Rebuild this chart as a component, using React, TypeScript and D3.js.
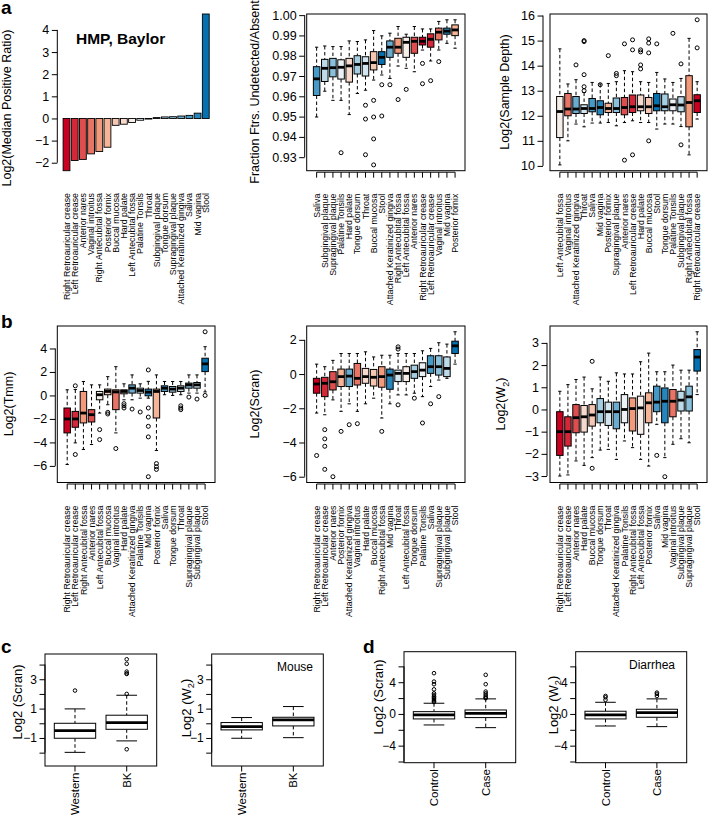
import React, { useEffect, useRef } from 'react'
import * as d3 from 'd3'

const FONT = '"Liberation Sans", Arial, Helvetica, sans-serif'

// site order of the ratio bar chart; this order also fixes each site's colour
const sites = ['Right Retroauricular crease', 'Left Retroauricular crease', 'Anterior nares', 'Vaginal introitus',
  'Right Antecubital fossa', 'Posterior fornix', 'Buccal mucosa', 'Hard palate', 'Left Antecubital fossa',
  'Palatine Tonsils', 'Throat', 'Subgingival plaque', 'Tongue dorsum', 'Supragingival plaque',
  'Attached Keratinized gingiva', 'Saliva', 'Mid vagina', 'Stool']
const medianRatio = [-2.36, -1.9, -1.85, -1.6, -1.49, -1.3, -0.31, -0.26, -0.18, -0.08, -0.01,
  0.04, 0.07, 0.08, 0.11, 0.14, 0.24, 4.72]

// box stats are [lower whisker, Q1, median, Q3, upper whisker]
const fracSites = ['Saliva', 'Subgingival plaque', 'Supragingival plaque', 'Palatine Tonsils', 'Hard palate',
  'Tongue dorsum', 'Throat', 'Buccal mucosa', 'Stool', 'Attached Keratinized gingiva', 'Right Antecubital fossa',
  'Left Antecubital fossa', 'Anterior nares', 'Right Retroauricular crease', 'Left Retroauricular crease',
  'Vaginal introitus', 'Mid vagina', 'Posterior fornix']
const fracStats = [
  [0.9498, 0.9604, 0.9686, 0.9746, 0.9842], [0.9625, 0.9673, 0.9738, 0.9782, 0.9848],
  [0.958, 0.9696, 0.9741, 0.9787, 0.9845], [0.958, 0.9685, 0.9743, 0.978, 0.9845],
  [0.951, 0.967, 0.975, 0.9787, 0.9873], [0.9614, 0.971, 0.9757, 0.98, 0.987],
  [0.963, 0.97, 0.9762, 0.9795, 0.9878], [0.968, 0.973, 0.9766, 0.982, 0.9924],
  [0.9705, 0.9757, 0.9792, 0.982, 0.9898], [0.9688, 0.9792, 0.9842, 0.9873, 0.9911],
  [0.9749, 0.9812, 0.9842, 0.9886, 0.9944], [0.9738, 0.9792, 0.9866, 0.9891, 0.9906],
  [0.9721, 0.9812, 0.9871, 0.9891, 0.9944], [0.9828, 0.9853, 0.9871, 0.9891, 0.9932],
  [0.9774, 0.9842, 0.9881, 0.9908, 0.9932], [0.9828, 0.9878, 0.9916, 0.9936, 0.9969],
  [0.9861, 0.9906, 0.9921, 0.9936, 0.9977], [0.9837, 0.9899, 0.9927, 0.9952, 0.9977],
]
const fracOut = [[], [], [], [0.9322], [], [], [0.9556, 0.9488, 0.9312], [0.958, 0.9498, 0.939, 0.9262],
  [0.9657, 0.9503], [0.9657], [0.9584], [0.9634], [], [0.9762, 0.9662], [0.9677], [0.9771], [], []]

const depthSites = ['Left Antecubital fossa', 'Vaginal introitus', 'Attached Keratinized gingiva', 'Throat', 'Saliva',
  'Mid vagina', 'Posterior fornix', 'Supragingival plaque', 'Anterior nares', 'Left Retroauricular crease',
  'Hard palate', 'Buccal mucosa', 'Stool', 'Tongue dorsum', 'Palatine Tonsils', 'Subgingival plaque',
  'Right Antecubital fossa', 'Right Retroauricular crease']
const depthStats = [
  [10.04, 11.13, 12.17, 12.77, 14.67], [11.0, 12.0, 12.27, 12.89, 13.27], [11.67, 12.09, 12.27, 12.77, 13.44],
  [11.56, 12.09, 12.29, 12.44, 12.93], [11.71, 12.16, 12.29, 12.69, 13.33], [11.71, 12.04, 12.33, 12.6, 13.27],
  [11.73, 12.13, 12.29, 12.5, 13.29], [11.6, 12.13, 12.29, 12.71, 13.36], [11.73, 12.04, 12.33, 12.73, 13.8],
  [11.8, 12.13, 12.36, 12.83, 13.76], [11.73, 12.2, 12.36, 12.83, 13.36], [11.73, 12.09, 12.36, 12.73, 13.33],
  [11.47, 12.2, 12.4, 12.89, 13.73], [11.67, 12.2, 12.36, 12.87, 13.47], [11.67, 12.2, 12.44, 12.67, 13.33],
  [11.57, 12.16, 12.43, 12.76, 13.49], [10.44, 11.56, 12.53, 13.6, 15.09], [11.87, 12.13, 12.6, 12.84, 13.36],
]
const depthOut = [[], [], [14.03], [15.0, 14.96, 13.64, 13.16, 13.0], [], [13.24], [14.4], [13.69, 13.6],
  [14.87, 10.23], [15.03, 14.63, 10.44], [14.63, 14.55, 14.03, 13.87], [15.07, 14.9, 14.51, 11.0], [14.87], [],
  [15.29], [14.07, 10.84], [], [15.83, 14.71]]

const tmmSites = ['Right Retroauricular crease', 'Left Retroauricular crease', 'Right Antecubital fossa',
  'Anterior nares', 'Left Antecubital fossa', 'Buccal mucosa', 'Vaginal introitus', 'Hard palate',
  'Attached Keratinized gingiva', 'Palatine Tonsils', 'Mid vagina', 'Posterior fornix', 'Saliva', 'Tongue dorsum',
  'Throat', 'Supragingival plaque', 'Subgingival plaque', 'Stool']
const tmmStats = [
  [-5.88, -3.19, -2.0, -1.07, 0.48], [-4.04, -2.71, -2.0, -1.36, 0.5], [-4.6, -2.34, -1.5, 0.34, 1.19],
  [-4.18, -2.26, -1.64, -1.21, 0.9], [-1.5, -0.37, 0.06, 0.34, 0.9], [-0.79, 0.06, 0.34, 0.54, 1.6],
  [-3.19, -1.21, 0.3, 0.48, 2.45], [-0.37, 0.14, 0.34, 0.48, 0.99], [-0.37, 0.2, 0.62, 0.9, 1.75],
  [-0.23, 0.2, 0.42, 0.62, 0.99], [-0.23, -0.03, 0.28, 0.54, 1.2], [-4.69, -1.92, 0.34, 0.54, 1.75],
  [0.06, 0.34, 0.62, 0.82, 1.19], [0.0, 0.28, 0.54, 0.76, 1.19], [0.06, 0.34, 0.62, 0.82, 1.19],
  [0.2, 0.62, 0.9, 1.05, 1.75], [0.2, 0.62, 0.9, 1.1, 1.75], [0.3, 2.03, 2.69, 3.17, 4.15],
]
const tmmOut = [[], [-5.03, 0.82], [], [], [-2.91, -3.76], [-1.44, -1.58], [-4.52], [-0.7, -0.88, -1.07], [-1.16],
  [-1.41], [-1.07, -1.84, -2.63, -3.53, -6.92, 2.17], [-5.8, -6.07, -6.3], [], [], [-0.88, -1.07, -1.21], [-0.14],
  [-0.31], [5.42, 0.0]]

const scranSites = ['Right Retroauricular crease', 'Left Retroauricular crease', 'Anterior nares', 'Posterior fornix',
  'Attached Keratinized gingiva', 'Vaginal introitus', 'Hard palate', 'Buccal mucosa', 'Right Antecubital fossa',
  'Mid vagina', 'Throat', 'Left Antecubital fossa', 'Tongue dorsum', 'Palatine Tonsils', 'Saliva',
  'Supragingival plaque', 'Subgingival plaque', 'Stool']
const scranStats = [
  [-2.28, -1.12, -0.58, -0.25, 0.58], [-2.38, -1.32, -0.54, -0.19, 0.43], [-1.51, -0.93, -0.45, 0.14, 0.8],
  [-2.18, -0.73, -0.15, 0.29, 1.2], [-1.74, -0.73, -0.12, 0.29, 1.2], [-2.18, -0.64, -0.25, 0.62, 1.2],
  [-1.74, -0.54, -0.15, 0.33, 1.3], [-1.41, -0.7, -0.19, 0.27, 1.0], [-2.57, -0.77, -0.15, 0.43, 1.1],
  [-1.74, -0.89, -0.06, 0.29, 1.1], [-1.22, -0.44, 0.04, 0.23, 1.2], [-1.22, -0.44, 0.04, 0.43, 1.2],
  [-1.12, -0.25, 0.14, 0.52, 1.2], [-1.32, -0.15, 0.23, 0.66, 1.36], [-0.73, 0.04, 0.43, 1.07, 1.5],
  [-0.35, -0.06, 0.43, 1.07, 1.83], [-0.25, -0.15, 0.33, 1.0, 1.75], [0.58, 1.2, 1.65, 1.92, 2.47],
]
const scranOut = [[-4.76], [-3.25, -3.79, -4.22, -5.57], [-6.0], [-3.35], [-2.96], [-2.9], [], [], [-3.35], [],
  [-1.8, 1.59, 1.46], [], [-1.41], [-2.86], [-1.74], [-1.32], [], []]

const w2Sites = ['Right Retroauricular crease', 'Left Retroauricular crease', 'Anterior nares', 'Hard palate',
  'Buccal mucosa', 'Tongue dorsum', 'Throat', 'Attached Keratinized gingiva', 'Palatine Tonsils',
  'Right Antecubital fossa', 'Left Antecubital fossa', 'Posterior fornix', 'Saliva', 'Mid vagina',
  'Vaginal introitus', 'Subgingival plaque', 'Supragingival plaque', 'Stool']
const w2Stats = [
  [-3.0, -2.07, -1.0, -0.1, 0.82], [-2.95, -1.65, -1.0, -0.33, 1.12], [-2.32, -1.05, -0.37, 0.22, 1.35],
  [-2.52, -1.02, -0.33, 0.18, 1.46], [-2.17, -0.75, -0.25, 0.22, 0.93], [-1.83, -0.6, -0.1, 0.49, 1.46],
  [-1.8, -0.72, -0.1, 0.33, 1.27], [-2.25, -0.87, -0.1, 0.33, 1.65], [-1.42, -0.6, 0.0, 0.67, 1.6],
  [-1.72, -0.97, 0.04, 0.52, 1.6], [-2.25, -1.12, 0.07, 0.6, 2.15], [-2.55, -0.6, 0.3, 0.75, 2.54],
  [-0.67, -0.1, 0.33, 1.05, 1.7], [-2.17, -0.6, 0.37, 0.97, 1.7], [-1.57, -0.33, 0.37, 0.9, 2.0],
  [-1.32, -0.07, 0.42, 0.82, 1.77], [-1.5, -0.07, 0.57, 1.05, 1.77], [0.67, 1.73, 2.36, 2.7, 3.5],
]
const w2Out = [[], [], [], [], [-2.65, 2.17], [], [], [], [], [], [], [], [-2.07], [-3.03], [], [], [], []]

const mouseGroups = ['Western', 'BK']
const mouseScranStats = [[-1.98, -1.02, -0.5, 0.0, 0.98], [-1.2, -0.41, 0.05, 0.55, 1.91]]
const mouseScranOut = [[2.23], [-1.77, 2.0, 3.36, 3.4, 3.52, 4.05, 4.36]]
const mouseW2Stats = [[-1.02, -0.45, -0.23, 0.05, 0.39], [-0.98, -0.18, 0.23, 0.41, 1.14]]
const mouseW2Out = [[], []]

const diarrheaGroups = ['Control', 'Case']
const diarrheaScranStats = [[-1.39, -0.63, -0.13, 0.29, 1.35], [-1.73, -0.46, 0.08, 0.5, 1.9]]
const diarrheaScranOut = [[5.14, 4.08, 3.75, 3.1, 2.6, 2.4, 2.2, 2.05, 1.9, 1.75, 1.6, 1.5],
  [4.93, 3.75, 2.82, 2.6, 2.4, 2.19, 2.05, 1.98]]
const diarrheaW2Stats = [[-1.52, -0.63, -0.13, 0.34, 1.47], [-1.6, -0.42, 0.17, 0.59, 1.9]]
const diarrheaW2Out = [[1.77, 2.1, 2.27], [2.27, 2.53, 2.69]]

const siteColorScale = d3.scaleLinear<string>()
  .domain([0, 4.25, 8.5, 12.75, 17])
  .range(['#CA0020', '#F4A582', '#F7F7F7', '#92C5DE', '#0571B0'])
const siteColor = (s: string) => siteColorScale(sites.indexOf(s))

const minus = (v: number) => (v < 0 ? '\u2212' + Math.abs(v) : String(v))

function yAxis(g: any, y: any, ticks: number[], x: number, fmt: (v: number) => string, size: number) {
  const a = g.append('g')
    .attr('transform', `translate(${x},0)`)
    .call(d3.axisLeft(y).tickValues(ticks).tickSize(5.5).tickPadding(2.5).tickFormat(fmt as any))
  a.select('.domain').remove()
  a.append('line')
    .attr('y1', y(ticks[0])).attr('y2', y(ticks[ticks.length - 1]))
    .attr('stroke', '#000')
  a.selectAll('text').attr('font-size', size).attr('font-family', FONT).attr('fill', '#000')
  a.selectAll('line').attr('stroke', '#000')
}

function yTitle(svg: any, text: string, x: number, y: number, size: number, sub?: string, tail?: string) {
  const t = svg.append('text')
    .attr('transform', `translate(${x},${y}) rotate(-90)`)
    .attr('text-anchor', 'middle')
    .attr('dy', '0.35em')
    .attr('font-size', size)
    .attr('font-family', FONT)
    .text(text)
  if (sub) {
    t.append('tspan').attr('font-size', size * 0.72).attr('dy', '0.35em').text(sub)
    t.append('tspan').attr('dy', '-0.28em').text(tail || '')
  }
}

function drawBoxes(g: any, x: any, y: any, stats: number[][], outliers: number[][], fills: string[], r = 2) {
  const bw = (x(2) - x(1)) * 0.8
  stats.forEach((s, i) => {
    const cx = x(i + 1)
    const [lo, q1, med, q3, hi] = s
    g.append('line').attr('x1', cx).attr('x2', cx).attr('y1', y(hi)).attr('y2', y(q3))
      .attr('stroke', '#000').attr('stroke-dasharray', '3.5,2.5')
    g.append('line').attr('x1', cx).attr('x2', cx).attr('y1', y(q1)).attr('y2', y(lo))
      .attr('stroke', '#000').attr('stroke-dasharray', '3.5,2.5')
    ;[lo, hi].forEach(v => {
      g.append('line').attr('x1', cx - bw / 4).attr('x2', cx + bw / 4).attr('y1', y(v)).attr('y2', y(v))
        .attr('stroke', '#000')
    })
    g.append('rect').attr('x', cx - bw / 2).attr('width', bw)
      .attr('y', y(q3)).attr('height', Math.max(0.5, y(q1) - y(q3)))
      .attr('fill', fills[i]).attr('stroke', '#000').attr('stroke-width', 1)
    g.append('line').attr('x1', cx - bw / 2).attr('x2', cx + bw / 2).attr('y1', y(med)).attr('y2', y(med))
      .attr('stroke', '#000').attr('stroke-width', 2.8)
    outliers[i].forEach(v => {
      g.append('circle').attr('cx', cx).attr('cy', y(v)).attr('r', r)
        .attr('fill', 'none').attr('stroke', '#000').attr('stroke-width', 1)
    })
  })
}

type Box = { left: number; right: number; top: number; bottom: number }

function siteBoxPanel(svg: any, b: Box, labels: string[], stats: number[][], outliers: number[][],
  axisGap: number, tickCount: number, fmt: (v: number) => string) {
  const n = labels.length
  const x = d3.scaleLinear().domain([0.5 - 0.04 * n, n + 0.5 + 0.04 * n]).range([b.left, b.right])
  const all = stats.flat().concat(outliers.flat())
  const [mn, mx] = d3.extent(all) as [number, number]
  const pad = (mx - mn) * 0.04
  const y = d3.scaleLinear().domain([mn - pad, mx + pad]).range([b.bottom, b.top])
  const g = svg.append('g')
  drawBoxes(g, x, y, stats, outliers, labels.map(siteColor))
  g.append('rect').attr('x', b.left).attr('y', b.top).attr('width', b.right - b.left)
    .attr('height', b.bottom - b.top).attr('fill', 'none').attr('stroke', '#000')
  yAxis(g, y, y.ticks(tickCount), b.left - axisGap, fmt, 12.5)
  // x axis
  const ax = b.bottom + 1.5
  g.append('line').attr('x1', x(1)).attr('x2', x(n)).attr('y1', ax).attr('y2', ax).attr('stroke', '#000')
  labels.forEach((s, i) => {
    g.append('line').attr('x1', x(i + 1)).attr('x2', x(i + 1)).attr('y1', ax).attr('y2', ax + 5.5)
      .attr('stroke', '#000')
    g.append('text')
      .attr('transform', `translate(${x(i + 1)},${b.bottom + 23}) rotate(-90)`)
      .attr('text-anchor', 'end').attr('dy', '0.35em')
      .attr('font-size', 8.8).attr('font-family', FONT)
      .text(s)
  })
}

function groupPanel(svg: any, b: Box, groups: string[], stats: number[][], outliers: number[][],
  domain: [number, number], ticks: number[], shown: number[], note?: string, noteX?: number) {
  const x = d3.scaleLinear().domain([0.42, 2.58]).range([b.left, b.right])
  const y = d3.scaleLinear().domain(domain).range([b.bottom, b.top])
  const g = svg.append('g')
  drawBoxes(g, x, y, stats, outliers, groups.map(() => '#fff'), 1.8)
  g.append('rect').attr('x', b.left).attr('y', b.top).attr('width', b.right - b.left)
    .attr('height', b.bottom - b.top).attr('fill', 'none').attr('stroke', '#000')
  yAxis(g, y, ticks, b.left, v => (shown.includes(v) ? minus(v) : ''), 12)
  groups.forEach((s, i) => {
    g.append('line').attr('x1', x(i + 1)).attr('x2', x(i + 1)).attr('y1', b.bottom).attr('y2', b.bottom + 5.5)
      .attr('stroke', '#000')
    g.append('text')
      .attr('transform', `translate(${x(i + 1)},${b.bottom + 6.5}) rotate(-90)`)
      .attr('text-anchor', 'end').attr('dy', '0.35em')
      .attr('font-size', 11.5).attr('font-family', FONT)
      .text(s)
  })
  if (note) {
    g.append('text').attr('x', noteX).attr('y', b.top + 17)
      .attr('text-anchor', 'middle').attr('font-size', 12).attr('font-family', FONT).text(note)
  }
}

function panelLetter(svg: any, l: string, x: number, y: number) {
  svg.append('text').attr('x', x).attr('y', y).attr('font-size', 19).attr('font-weight', 'bold')
    .attr('font-family', FONT).text(l)
}

export default function App() {
  const svgRef = useRef<SVGSVGElement>(null)

  useEffect(() => {
    const svg = d3.select(svgRef.current)
    svg.selectAll('*').remove()

    const rowA = { top: 14, bottom: 170.7 }
    const rowB = { top: 326, bottom: 482.5 }
    const cols = [[57.3, 215], [306.7, 465], [550, 707]]

    // a1: bar chart of median positive ratio
    const bx = d3.scaleBand().domain(sites).range([63.1, 209.2]).paddingInner(1 / 6).paddingOuter(0)
    const by = d3.scaleLinear().domain(d3.extent(medianRatio) as [number, number]).range([rowA.bottom, rowA.top])
    const ga = svg.append('g')
    ga.selectAll('rect').data(sites).enter().append('rect')
      .attr('x', d => bx(d) as number)
      .attr('width', bx.bandwidth())
      .attr('y', (d, i) => Math.min(by(medianRatio[i]), by(0)))
      .attr('height', (d, i) => Math.max(0.6, Math.abs(by(medianRatio[i]) - by(0))))
      .attr('fill', d => siteColor(d))
      .attr('stroke', '#000').attr('stroke-width', 0.9)
    yAxis(ga, by, [-2, -1, 0, 1, 2, 3, 4], cols[0][0], minus, 12.5)
    sites.forEach(s => {
      ga.append('text')
        .attr('transform', `translate(${(bx(s) as number) + bx.bandwidth() / 2},193) rotate(-90)`)
        .attr('text-anchor', 'end').attr('dy', '0.35em')
        .attr('font-size', 8.8).attr('font-family', FONT)
        .text(s)
    })
    ga.append('text').attr('x', 76).attr('y', 43.5).attr('font-size', 15.5).attr('font-weight', 'bold')
      .attr('font-family', FONT).text('HMP, Baylor')
    yTitle(svg, 'Log2(Median Positive Ratio)', 6.5, 108, 12.5)

    // a2, a3
    siteBoxPanel(svg, { left: cols[1][0], right: cols[1][1], ...rowA }, fracSites, fracStats, fracOut, 2, 8,
      d3.format('.2f'))
    yTitle(svg, 'Fraction Ftrs. Undetected/Absent', 255, 92, 12.5)
    siteBoxPanel(svg, { left: cols[2][0], right: cols[2][1], ...rowA }, depthSites, depthStats, depthOut, 7, 7, minus)
    yTitle(svg, 'Log2(Sample Depth)', 505, 92, 12.5)

    // b row
    siteBoxPanel(svg, { left: cols[0][0], right: cols[0][1], ...rowB }, tmmSites, tmmStats, tmmOut, 2, 7, minus)
    yTitle(svg, 'Log2(Tmm)', 9, 404, 12.5)
    siteBoxPanel(svg, { left: cols[1][0], right: cols[1][1], ...rowB }, scranSites, scranStats, scranOut, 2, 5, minus)
    yTitle(svg, 'Log2(Scran)', 255, 404, 12.5)
    siteBoxPanel(svg, { left: cols[2][0], right: cols[2][1], ...rowB }, w2Sites, w2Stats, w2Out, 3, 7, minus)
    yTitle(svg, 'Log2(W', 501, 404, 12.5, '2', ')')

    // c: mouse
    const cRow = { top: 654, bottom: 766 }
    const dRow = { top: 651.7, bottom: 762.7 }
    groupPanel(svg, { left: 45, right: 156.7, ...cRow }, mouseGroups, mouseScranStats, mouseScranOut,
      [-2.91, 4.72], [-2, -1, 0, 1, 2, 3, 4], [-1, 1, 3])
    yTitle(svg, 'Log2 (Scran)', 17, 702, 13)
    groupPanel(svg, { left: 211.7, right: 323.3, ...cRow }, mouseGroups, mouseW2Stats, mouseW2Out,
      [-2.91, 4.72], [-2, -1, 0, 1, 2, 3, 4], [-1, 1, 3], 'Mouse', 295)
    yTitle(svg, 'Log2 (W', 186, 708, 13, '2', ')')

    // d: diarrhea
    groupPanel(svg, { left: 404, right: 515.7, ...dRow }, diarrheaGroups, diarrheaScranStats, diarrheaScranOut,
      [-6.15, 7.85], [-6, -4, -2, 0, 2, 4, 6], [-4, 0, 4])
    yTitle(svg, 'Log2 (Scran)', 378, 697, 13)
    groupPanel(svg, { left: 575.7, right: 686.7, ...dRow }, diarrheaGroups, diarrheaW2Stats, diarrheaW2Out,
      [-6.15, 7.85], [-6, -4, -2, 0, 2, 4, 6], [-4, 0, 4], 'Diarrhea', 652)
    yTitle(svg, 'Log2 (W', 553, 705, 13, '2', ')')

    panelLetter(svg, 'a', 1, 13.5)
    panelLetter(svg, 'b', 1, 328)
    panelLetter(svg, 'c', 1, 652.5)
    panelLetter(svg, 'd', 363, 653)
  }, [])

  return (
    <svg
      ref={svgRef}
      width={708}
      height={816}
      style={{ position: 'absolute', left: 0, top: 0, background: '#fff' }}
    />
  )
}
